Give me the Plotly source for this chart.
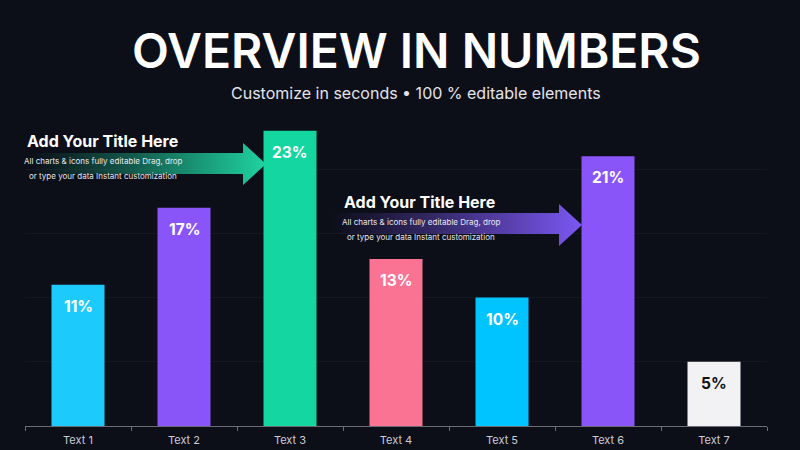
import plotly.graph_objects as go

# chart data
categories = ["Text 1", "Text 2", "Text 3", "Text 4", "Text 5", "Text 6", "Text 7"]
values = [11, 17, 23, 13, 10, 21, 5]
bar_colors = ["#1ccbfc", "#8a55f8", "#14d6a0", "#fa7393", "#00c4ff", "#8a55f8", "#f2f2f5"]
label_colors = ["#ffffff"] * 6 + ["#111111"]

title_text = "OVERVIEW IN NUMBERS"
subtitle_text = "Customize in seconds \u2022 100 % editable elements"
callout_title = "Add Your Title Here"
callout_lines = ["All charts & icons fully editable Drag, drop", "or type your data Instant customization"]

BG = "#0c0e18"
FONT = "Inter"

# decorative arrows, drawn in a pixel-like overlay (x right, y down)
arrows = [
    {"x": [30, 243, 243, 266, 243, 243, 30], "y": [153, 153, 143, 164, 185, 174, 174],
     "rgb": "31,211,160", "x0": 30, "x1": 266},
    {"x": [330, 559, 559, 582, 559, 559, 330], "y": [213, 213, 204, 225, 246, 234, 234],
     "rgb": "123,87,242", "x0": 330, "x1": 582},
]
# callout text anchors (overlay pixels): title left edge / y, body centre x / first line y
callouts = [(25, 141, 103, 161), (342, 202, 421, 222)]

fig = go.Figure()

fig.add_trace(
    go.Bar(
        x=categories,
        y=values,
        width=0.5,
        marker={"color": bar_colors, "line": {"width": 0}},
        hoverinfo="skip",
        showlegend=False,
    )
)

for arrow in arrows:
    fig.add_trace(
        go.Scatter(
            x=arrow["x"],
            y=arrow["y"],
            xaxis="x2",
            yaxis="y2",
            mode="lines",
            line={"width": 0},
            fill="toself",
            fillgradient={
                "type": "horizontal",
                "start": arrow["x0"],
                "stop": arrow["x1"],
                "colorscale": [
                    [0, f"rgba({arrow['rgb']},0)"],
                    [0.4, f"rgba({arrow['rgb']},0.35)"],
                    [1, f"rgba({arrow['rgb']},1)"],
                ],
            },
            hoverinfo="skip",
            showlegend=False,
        )
    )

annotations = []
for cat, val, col in zip(categories, values, label_colors):
    annotations.append(
        {
            "x": cat, "y": val, "xref": "x", "yref": "y",
            "text": f"<b>{val}%</b>", "showarrow": False,
            "yanchor": "top", "yshift": -10,
            "font": {"family": FONT, "size": 15.5, "color": col},
        }
    )

# header positions in paper units (plot area spans y 105..426 px)
annotations += [
    {"x": 0.527, "y": 1.171, "xref": "paper", "yref": "paper", "yanchor": "middle",
     "text": title_text, "showarrow": False,
     "font": {"family": FONT, "size": 48, "weight": 600, "color": "#ffffff"}},
    {"x": 0.527, "y": 1.037, "xref": "paper", "yref": "paper", "yanchor": "middle",
     "text": subtitle_text, "showarrow": False,
     "font": {"family": FONT, "size": 16, "color": "#e4e4ea"}},
]

for tx, ty, bx, by in callouts:
    annotations.append(
        {"x": tx, "y": ty, "xref": "x2", "yref": "y2", "text": f"<b>{callout_title}</b>",
         "xanchor": "left", "yanchor": "middle", "showarrow": False,
         "font": {"family": FONT, "size": 16, "color": "#ffffff"}}
    )
    for i, line in enumerate(callout_lines):
        annotations.append(
            {"x": bx, "y": by + 14.5 * i, "xref": "x2", "yref": "y2", "text": line,
             "yanchor": "middle", "showarrow": False,
             "font": {"family": FONT, "size": 8, "color": "#e8e8ee"}}
        )

fig.update_layout(
    width=800,
    height=450,
    paper_bgcolor=BG,
    plot_bgcolor="rgba(0,0,0,0)",
    margin={"l": 25, "r": 33, "t": 105, "b": 24, "autoexpand": False},
    font={"family": FONT, "color": "#c8c8d0"},
    bargap=0.5,
    annotations=annotations,
    xaxis={
        "type": "category",
        "range": [-0.5, 6.5],
        "tickson": "boundaries",
        "ticks": "outside",
        "ticklen": 4,
        "tickcolor": "#6a6d78",
        "ticklabelstandoff": 4,
        "showline": True,
        "linecolor": "#6a6d78",
        "linewidth": 1,
        "showgrid": False,
        "automargin": False,
        "tickfont": {"family": FONT, "size": 11, "color": "#cdcdd5"},
        "fixedrange": True,
    },
    yaxis={
        "range": [0, 25],
        "dtick": 5,
        "showgrid": True,
        "gridcolor": "rgba(255,255,255,0.035)",
        "zeroline": False,
        "showticklabels": False,
        "automargin": False,
        "fixedrange": True,
    },
    xaxis2={"domain": [0, 1], "range": [25, 767], "anchor": "y2", "visible": False, "fixedrange": True},
    yaxis2={"domain": [0, 1], "range": [426, 105], "anchor": "x2", "visible": False, "fixedrange": True},
)

fig.write_html(
    "out.html",
    config={"displayModeBar": False},
    post_script="document.body.style.margin='0';document.body.style.background='" + BG + "';",
)
